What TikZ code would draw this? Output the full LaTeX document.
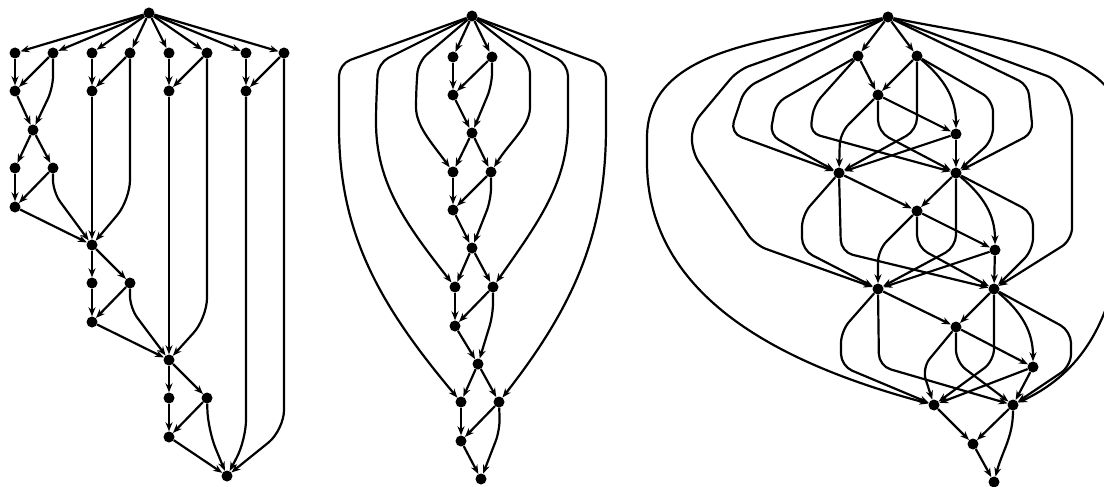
\documentclass[tikz,border=0pt]{standalone}
\usepackage{tikz}
\usetikzlibrary{arrows.meta}

\begin{document}
\begin{tikzpicture}
  [x=1pt, y=1pt, >={Stealth[length=9pt,width=7pt]},
   dot node/.style={circle, fill=black, inner sep=0pt, minimum size=11pt},
   dag edge/.style={->, line width=2.2pt, rounded corners=12pt}]

\useasboundingbox (0,0) rectangle (1104,-487);
\clip (0,0) rectangle (1104,-487);

% left graph
\node[dot node] (a0) at (149,-13) {};
\node[dot node] (a1) at (15,-53) {};
\node[dot node] (a2) at (53,-53) {};
\node[dot node] (a3) at (92,-53) {};
\node[dot node] (a4) at (130,-53) {};
\node[dot node] (a5) at (169,-53) {};
\node[dot node] (a6) at (207,-53) {};
\node[dot node] (a7) at (246,-53) {};
\node[dot node] (a8) at (284,-53) {};
\node[dot node] (a9) at (15,-91) {};
\node[dot node] (a10) at (92,-91) {};
\node[dot node] (a11) at (169,-91) {};
\node[dot node] (a12) at (246,-91) {};
\node[dot node] (a13) at (33,-130) {};
\node[dot node] (a14) at (15,-168) {};
\node[dot node] (a15) at (53,-168) {};
\node[dot node] (a16) at (15,-207) {};
\node[dot node] (a17) at (92,-245) {};
\node[dot node] (a18) at (92,-283) {};
\node[dot node] (a19) at (130,-283) {};
\node[dot node] (a20) at (92,-322) {};
\node[dot node] (a21) at (169,-360) {};
\node[dot node] (a22) at (169,-398) {};
\node[dot node] (a23) at (207,-398) {};
\node[dot node] (a24) at (169,-437) {};
\node[dot node] (a25) at (227,-476) {};

\path[dag edge]
  (a0) edge (a1) (a0) edge (a2) (a0) edge (a3) (a0) edge (a4)
  (a0) edge (a5) (a0) edge (a6) (a0) edge (a7) (a0) edge (a8)
  (a1) edge (a9) (a2) edge (a9) (a9) edge (a13)
  (a13) edge (a14) (a13) edge (a15) (a14) edge (a16) (a15) edge (a16)
  (a16) edge (a17) (a3) edge (a10) (a4) edge (a10) (a10) edge (a17)
  (a17) edge (a18) (a17) edge (a19) (a18) edge (a20) (a19) edge (a20)
  (a20) edge (a21) (a5) edge (a11) (a6) edge (a11) (a11) edge (a21)
  (a21) edge (a22) (a21) edge (a23) (a22) edge (a24) (a23) edge (a24)
  (a24) edge (a25) (a7) edge (a12) (a8) edge (a12);

\draw[dag edge] (a2) -- (53,-88) -- (a13);
\draw[dag edge] (a15) -- (53,-192) -- (a17);
\draw[dag edge, rounded corners=20pt] (a4) -- (130,-200) -- (a17);
\draw[dag edge] (a19) -- (130,-308) -- (a21);
\draw[dag edge, rounded corners=20pt] (a6) -- (207,-318) -- (a21);
\draw[dag edge, rounded corners=20pt] (a23) -- (208,-430) -- (a25);
\draw[dag edge, rounded corners=20pt] (a12) -- (246,-440) -- (a25);
\draw[dag edge, rounded corners=20pt] (a8) -- (284,-430) -- (a25);

% middle graph
\node[dot node] (b0) at (472,-16) {};
\node[dot node] (b1) at (453,-57) {};
\node[dot node] (b2) at (492,-57) {};
\node[dot node] (b3) at (453,-95) {};
\node[dot node] (b4) at (472,-133) {};
\node[dot node] (b5) at (453,-172) {};
\node[dot node] (b6) at (491,-172) {};
\node[dot node] (b7) at (453,-210) {};
\node[dot node] (b8) at (472,-248) {};
\node[dot node] (b9) at (455,-287) {};
\node[dot node] (b10) at (493,-287) {};
\node[dot node] (b11) at (455,-326) {};
\node[dot node] (b12) at (478,-364) {};
\node[dot node] (b13) at (461,-402) {};
\node[dot node] (b14) at (499,-402) {};
\node[dot node] (b15) at (461,-441) {};
\node[dot node] (b16) at (481,-479) {};

\path[dag edge]
  (b0) edge (b1) (b0) edge (b2) (b1) edge (b3) (b2) edge (b3) (b3) edge (b4)
  (b4) edge (b5) (b4) edge (b6) (b5) edge (b7) (b6) edge (b7) (b7) edge (b8)
  (b8) edge (b9) (b8) edge (b10) (b9) edge (b11) (b10) edge (b11) (b11) edge (b12)
  (b12) edge (b13) (b12) edge (b14) (b13) edge (b15) (b14) edge (b15) (b15) edge (b16);

\draw[dag edge] (b2) -- (492,-85) -- (b4);
\draw[dag edge] (b6) -- (491,-200) -- (b8);
\draw[dag edge] (b10) -- (493,-315) -- (b12);
\draw[dag edge] (b14) -- (500,-430) -- (b16);

\draw[dag edge] (b0) -- (418,-62) -- (416,-95) to[out=-90,in=126] (b5);
\draw[dag edge] (b0) -- (378,-63) -- (376,-110) to[out=-90,in=128] (b9);
\draw[dag edge] (b0) -- (339,-64) -- (339,-115) to[out=-90,in=130] (b13);
\draw[dag edge] (b0) -- (530,-62) -- (530,-95) to[out=-90,in=58] (b6);
\draw[dag edge] (b0) -- (568,-64) -- (568,-110) to[out=-90,in=55] (b10);
\draw[dag edge] (b0) -- (606,-66) -- (606,-115) to[out=-90,in=52] (b14);

% right graph
\node[dot node] (c0) at (888,-17) {};
\node[dot node] (c1) at (858,-56) {};
\node[dot node] (c2) at (917,-56) {};
\node[dot node] (c3) at (878,-95) {};
\node[dot node] (c4) at (956,-134) {};
\node[dot node] (c5) at (839,-173) {};
\node[dot node] (c6) at (956,-173) {};
\node[dot node] (c7) at (917,-211) {};
\node[dot node] (c8) at (995,-250) {};
\node[dot node] (c9) at (878,-289) {};
\node[dot node] (c10) at (994,-289) {};
\node[dot node] (c11) at (956,-327) {};
\node[dot node] (c12) at (1033,-367) {};
\node[dot node] (c13) at (934,-405) {};
\node[dot node] (c14) at (1013,-405) {};
\node[dot node] (c15) at (973,-444) {};
\node[dot node] (c16) at (994,-482) {};

\path[dag edge]
  (c0) edge (c1) (c0) edge (c2) (c1) edge (c3) (c2) edge (c3) (c3) edge (c4)
  (c4) edge (c5) (c4) edge (c6) (c5) edge (c7) (c6) edge (c7) (c7) edge (c8)
  (c8) edge (c9) (c8) edge (c10) (c9) edge (c11) (c10) edge (c11) (c11) edge (c12)
  (c12) edge (c13) (c12) edge (c14) (c13) edge (c15) (c14) edge (c15) (c15) edge (c16);

\draw[dag edge] (c2) to[out=-40,in=90] (c4);
\draw[dag edge] (c6) to[out=-40,in=90] (c8);
\draw[dag edge] (c10) to[out=-40,in=90] (c12);
\draw[dag edge] (c14) to[out=-90,in=75] (c16);

% long edges from the top
\draw[dag edge] (c0) -- (745,-88) -- (730,-133) -- (c5);
\draw[dag edge] (c0) -- (738,-70) -- (692,-125) -- (692,-152) -- (755,-245) -- (c9);
\draw[dag edge] (c0) to[out=192,in=90] (647,-150) to[out=-90,in=165] (c13);
\draw[dag edge, rounded corners=10pt] (c0) -- (1028,-85) -- (1033,-133) -- (c6);
\draw[dag edge] (c0) -- (1058,-80) -- (1072,-108) -- (1072,-240) -- (c10);
\draw[dag edge] (c0) to[out=-12,in=90] (1125,-150) to[out=-90,in=25] (c14);

% first block to L1, R1
\draw[dag edge, rounded corners=10pt] (c1) -- (776,-103) -- (770,-135) -- (c5);
\draw[dag edge, rounded corners=10pt] (c1) -- (814,-105) -- (810,-133) -- (c6);
\draw[dag edge] (c2) -- (917,-130) -- (c5);
\draw[dag edge] (c2) -- (993,-100) -- (993,-140) -- (c6);
\draw[dag edge] (c3) -- (840,-133) -- (c5);
\draw[dag edge] (c3) -- (878,-132) -- (c6);

% second block to L2, R2
\draw[dag edge] (c5) -- (802,-215) -- (802,-250) -- (c9);
\draw[dag edge] (c5) -- (841,-252) -- (c10);
\draw[dag edge] (c6) -- (956,-247) -- (c9);
\draw[dag edge] (c6) -- (1033,-213) -- (1033,-250) -- (c10);
\draw[dag edge] (c7) -- (878,-250) -- (c9);
\draw[dag edge] (c7) -- (917,-247) -- (c10);

% third block to L3, R3
\draw[dag edge] (c9) -- (841,-331) -- (841,-366) -- (c13);
\draw[dag edge] (c9) -- (879,-366) -- (c14);
\draw[dag edge] (c10) -- (994,-361) -- (c13);
\draw[dag edge] (c10) -- (1071,-331) -- (1071,-366) -- (c14);
\draw[dag edge] (c11) -- (922,-368) -- (c13);
\draw[dag edge] (c11) -- (956,-362) -- (c14);

\end{tikzpicture}
\end{document}
